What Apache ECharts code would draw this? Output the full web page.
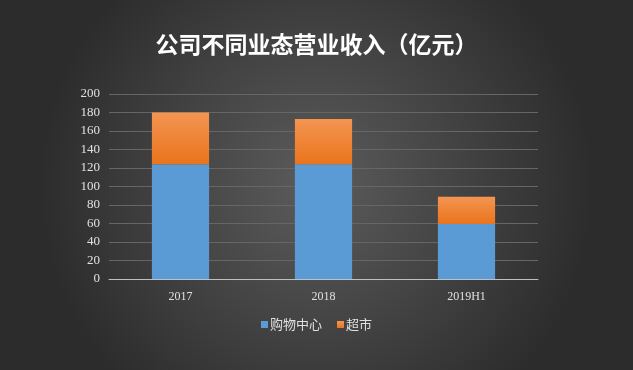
<!DOCTYPE html>
<html><head><meta charset="utf-8">
<script src="https://cdn.jsdelivr.net/npm/echarts@6/dist/echarts.min.js"></script>
<style>html,body{margin:0;padding:0;}#c{width:633px;height:370px;}</style>
</head><body><div id="c"></div>
<script>
const categories = ['2017', '2018', '2019H1'];
const mallValues = [124, 124, 59.5];
const marketValues = [56, 49, 29.5];
const seriesNames = ['购物中心', '超市'];

const chart = echarts.init(document.getElementById('c'));
chart.setOption({
  backgroundColor: {
    type: 'radial', x: 0.5, y: 0.5, r: 0.75,
    colorStops: [{offset: 0, color: '#5c5c5c'}, {offset: 1, color: '#2c2c2c'}]
  },
  animation: false,
  title: {
    text: '公司不同业态营业收入（亿元）',
    left: 'center', top: 28,
    textStyle: {color: '#ffffff', fontSize: 23, fontWeight: 'bold', fontFamily: 'Noto Sans CJK SC'}
  },
  legend: {
    bottom: 34, left: 'center', itemWidth: 7, itemHeight: 7, itemGap: 15,
    icon: 'rect',
    textStyle: {color: '#e0e0e0', fontSize: 13, fontFamily: 'Noto Sans CJK SC', padding: [0, 0, 0, -3]},
    data: seriesNames
  },
  grid: {left: 109, right: 95, top: 94, bottom: 91},
  xAxis: {
    type: 'category', data: categories,
    axisLine: {lineStyle: {color: '#bfbfbf'}},
    axisTick: {show: false},
    axisLabel: {color: '#e0e0e0', fontSize: 12, fontFamily: 'Liberation Serif', margin: 12}
  },
  yAxis: {
    type: 'value', min: 0, max: 200, interval: 20,
    axisLine: {show: false}, axisTick: {show: false},
    splitLine: {lineStyle: {color: '#666666'}},
    axisLabel: {color: '#e0e0e0', fontSize: 13, fontFamily: 'Liberation Serif', margin: 9}
  },
  series: [
    {name: seriesNames[0], type: 'bar', stack: 'a', barWidth: '40%', data: mallValues,
     itemStyle: {color: '#5b9bd5'}},
    {name: seriesNames[1], type: 'bar', stack: 'a', data: marketValues,
     itemStyle: {color: {type: 'linear', x: 0, y: 0, x2: 0, y2: 1,
       colorStops: [{offset: 0, color: '#f39552'}, {offset: 1, color: '#ea741c'}]}}}
  ]
});
</script></body></html>
